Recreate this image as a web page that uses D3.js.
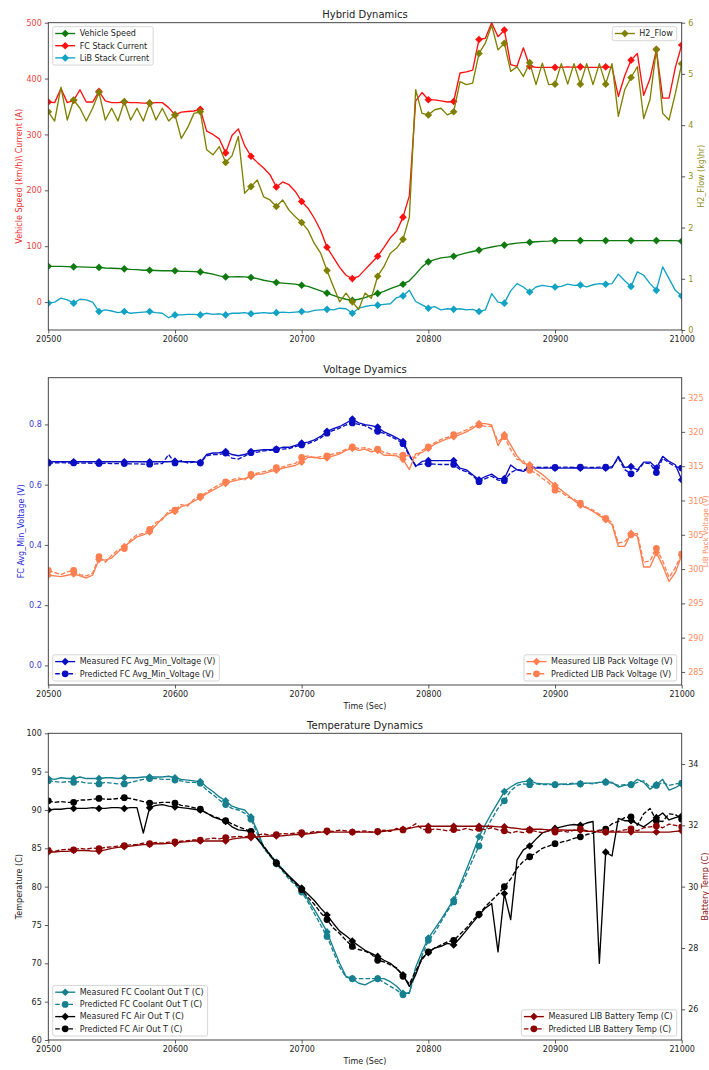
<!DOCTYPE html>
<html>
<head>
<meta charset="utf-8">
<script src="https://cdn.jsdelivr.net/npm/d3@7"></script>
<style>
  body { margin: 0; background: #fff; }
  svg { display: block; }
  text { font-family: "DejaVu Sans", sans-serif; }
</style>
</head>
<body>
<div id="chart"></div>
<script>
// time axis, one sample every 5 s
const time = d3.range(20500, 21001, 5);
const xTicks = [20500, 20600, 20700, 20800, 20900, 21000];

// ---- Hybrid Dynamics ----
const speed = [
  64, 64, 64, 63.5, 63, 63, 62.5, 62, 62, 61,
  60.5, 60, 59.5, 58.5, 58, 57, 57, 56.5, 56, 56,
  56, 55, 55, 54.5, 54, 52, 50, 47, 45, 45,
  45.5, 45, 44, 42, 39, 37, 35, 34, 33, 32,
  30, 28, 24, 20, 16, 12, 8, 5, 3, 5,
  8, 12, 15.5, 19, 24, 28, 32, 38, 50, 63,
  72, 76, 79, 80.5, 82, 85, 88, 90.5, 93, 96,
  98.5, 100.5, 102, 104, 105.5, 106.5, 107, 108, 108.5, 109,
  110, 110, 110, 110, 110, 110, 110, 110, 110, 110,
  110, 110, 110, 110, 110, 110, 110, 110, 110, 110,
  109
];
const fcCurrent = [
  358, 357, 382, 357, 361, 380, 358, 358, 377, 360,
  357, 357, 358, 357, 357, 356, 356, 357, 357, 348,
  335, 340, 341, 342, 345, 306, 300, 292, 267, 298,
  310, 280, 261, 250, 240, 228, 206, 215, 210, 198,
  180, 168, 150, 128, 98, 80, 62, 48, 42, 46,
  58, 70, 82, 98, 115, 127, 152, 190, 360, 375,
  362, 362, 360, 358, 359, 410, 412, 415, 470, 472,
  500, 475, 487, 425, 422, 455, 422, 420, 420, 420,
  420, 420, 421, 420, 421, 420, 420, 420, 421, 420,
  368, 405, 433, 445, 370, 400, 452, 365, 365, 420,
  460
];
const libCurrent = [
  -2, 0, 7, 4, -2, 5, 4, 0, -17, -14,
  -16, -19, -17, -20, -19, -18, -17, -19, -20, -28,
  -23, -23, -22, -22, -23, -20, -22, -21, -23, -20,
  -20, -19, -21, -20, -19, -20, -19, -18, -19, -18,
  -17, -18, -15, -14, -13, -14, -11, -12, -20, -11,
  -8, -6, -5.5, -4, -3, 8, 11, 21, 1, -5,
  -11, -8, -14, -12, -13, -12, -14, -13, -17, -14,
  15, 0, -2, 20, 33, 27, 18, 27, 30, 28,
  27, 28, 32, 30, 30.5, 27, 31, 33, 32, 33,
  50, 38, 28, 54, 48, 33, 21, 63, 42, 21,
  11
];
const h2Flow = [
  4.26, 4.08, 4.74, 4.1, 4.49, 4.33, 4.08, 4.33, 4.64, 4.1,
  4.33, 4.08, 4.46, 4.1, 4.33, 4.08, 4.43, 4.1, 4.33, 4.08,
  4.2, 3.74, 3.95, 4.23, 4.26, 3.52, 3.42, 3.58, 3.27, 3.4,
  3.78, 2.67, 2.8, 2.93, 2.6, 2.54, 2.41, 2.54, 2.34, 2.21,
  2.1, 1.95, 1.69, 1.5, 1.16, 0.85, 0.55, 0.72, 0.55, 0.4,
  0.72, 0.62, 1.05, 1.24, 1.5, 1.6, 1.77, 2.2, 4.69, 4.23,
  4.2, 4.3, 4.33, 4.2, 4.26, 4.85, 4.79, 4.82, 5.4, 5.6,
  5.95, 5.47, 5.6, 5.05, 5.14, 4.95, 5.22, 4.79, 5.21, 4.79,
  4.8, 5.2, 4.8, 5.2, 4.8, 5.2, 4.79, 5.2, 4.8, 5.2,
  4.17, 4.69, 4.93, 5.14, 4.13, 4.5, 5.48, 4.23, 4.1, 4.62,
  5.2
];

// ---- Voltage Dynamics ----
const fcVoltMeas = [
  0.676, 0.676, 0.676, 0.676, 0.676, 0.676, 0.676, 0.676, 0.676, 0.676,
  0.676, 0.676, 0.676, 0.676, 0.676, 0.676, 0.676, 0.676, 0.676, 0.676,
  0.678, 0.676, 0.676, 0.676, 0.673, 0.700, 0.705, 0.706, 0.710, 0.700,
  0.696, 0.700, 0.710, 0.714, 0.716, 0.716, 0.718, 0.724, 0.724, 0.730,
  0.738, 0.741, 0.749, 0.760, 0.777, 0.786, 0.793, 0.804, 0.818, 0.805,
  0.799, 0.796, 0.791, 0.775, 0.766, 0.755, 0.743, 0.700, 0.660, 0.677,
  0.680, 0.680, 0.680, 0.680, 0.680, 0.655, 0.649, 0.633, 0.616, 0.627,
  0.635, 0.620, 0.620, 0.665, 0.649, 0.644, 0.655, 0.655, 0.655, 0.655,
  0.655, 0.655, 0.655, 0.656, 0.655, 0.655, 0.655, 0.655, 0.655, 0.656,
  0.694, 0.657, 0.660, 0.649, 0.675, 0.675, 0.655, 0.694, 0.677, 0.666,
  0.616
];
const fcVoltPred = [
  0.672, 0.672, 0.673, 0.672, 0.672, 0.671, 0.672, 0.671, 0.670, 0.671,
  0.670, 0.670, 0.670, 0.669, 0.669, 0.668, 0.668, 0.669, 0.670, 0.700,
  0.672, 0.680, 0.672, 0.675, 0.672, 0.696, 0.700, 0.700, 0.705, 0.688,
  0.685, 0.695, 0.706, 0.708, 0.712, 0.714, 0.716, 0.718, 0.720, 0.726,
  0.732, 0.736, 0.744, 0.755, 0.771, 0.780, 0.788, 0.798, 0.805, 0.800,
  0.796, 0.785, 0.777, 0.770, 0.760, 0.750, 0.736, 0.695, 0.665, 0.668,
  0.669, 0.668, 0.667, 0.667, 0.667, 0.650, 0.643, 0.630, 0.610, 0.620,
  0.628, 0.615, 0.613, 0.640, 0.650, 0.648, 0.657, 0.658, 0.657, 0.658,
  0.657, 0.658, 0.658, 0.657, 0.658, 0.658, 0.657, 0.658, 0.658, 0.660,
  0.688, 0.650, 0.636, 0.645, 0.672, 0.670, 0.640, 0.688, 0.672, 0.660,
  0.655
];
const libVoltMeas = [
  299.1, 299.0, 298.9, 299.1, 299.3, 299.0, 298.7, 299.1, 301.4, 301.3,
  301.6, 302.5, 303.3, 304.0, 304.7, 305.0, 305.4, 306.4, 307.4, 308.1,
  308.4, 309.1, 309.4, 309.9, 310.4, 311.0, 311.5, 312.0, 312.5, 312.8,
  313.0, 313.2, 313.5, 313.8, 313.9, 314.2, 314.4, 314.7, 314.9, 315.1,
  315.6, 316.3, 316.3, 316.1, 316.2, 316.5, 316.8, 317.3, 317.6, 317.3,
  317.5, 317.1, 317.3, 316.6, 316.6, 316.5, 316.0, 314.5, 316.8, 317.0,
  317.6, 318.2, 318.6, 319.0, 319.3, 319.6, 320.0, 320.5, 321.2, 321.2,
  321.0, 318.0, 319.6, 318.1, 316.5, 315.4, 315.2, 314.4, 313.8, 313.0,
  312.2, 311.5, 310.8, 310.0, 309.3, 308.9, 308.4, 307.8, 307.2, 306.5,
  303.3, 303.3, 305.2, 304.8, 300.3, 300.3, 302.4, 300.5, 298.2, 299.5,
  302.0
];
const libVoltPred = [
  299.8, 299.5, 299.2, 299.6, 299.8, 299.2, 299.0, 299.4, 301.8, 301.0,
  302.0, 302.8, 303.0, 304.3, 305.0, 305.2, 305.8, 306.8, 307.2, 308.5,
  308.6, 309.4, 309.2, 310.2, 310.6, 311.2, 311.8, 312.3, 312.7, 313.0,
  313.3, 313.0, 313.8, 314.0, 314.2, 314.4, 314.8, 314.9, 315.2, 315.4,
  316.3, 316.5, 316.2, 316.4, 316.5, 316.8, 317.0, 317.5, 317.8, 317.6,
  317.7, 317.4, 317.5, 317.0, 316.8, 316.8, 316.6, 316.5, 316.2, 317.3,
  317.8, 318.4, 318.9, 319.2, 319.6, 319.9, 320.3, 320.8, 321.0, 320.8,
  320.8, 318.6, 319.3, 317.4, 316.0, 315.8, 314.4, 314.0, 313.2, 312.6,
  311.5, 311.2, 310.5, 310.2, 309.6, 309.0, 308.6, 308.0, 307.4, 306.8,
  303.8, 304.0, 305.0, 305.2, 301.0, 301.2, 303.0, 301.2, 298.8, 300.2,
  302.2
];

// ---- Temperature Dynamics ----
const coolantMeas = [
  94.1, 94.0, 94.2, 94.1, 94.1, 94.3, 94.1, 94.1, 94.1, 94.2,
  94.2, 94.1, 94.2, 94.2, 94.2, 94.3, 94.3, 94.3, 94.3, 94.4,
  94.2, 94.0, 93.9, 93.8, 93.7, 93.0, 92.4, 91.7, 91.2, 90.5,
  90.2, 90.0, 89.1, 87.3, 85.2, 84.2, 83.2, 82.3, 81.3, 80.5,
  79.6, 78.3, 77.0, 75.6, 74.1, 72.0, 70.0, 68.3, 68.0, 67.4,
  67.2, 67.6, 68.0, 68.0, 67.6, 67.0, 66.1, 66.1, 69.5, 71.5,
  73.3, 74.5, 75.7, 77.0, 78.3, 80.2, 82.2, 84.3, 86.5, 88.1,
  89.6, 91.0, 92.4, 93.0, 93.5, 93.7, 93.8, 93.5, 93.4, 93.4,
  93.3, 93.4, 93.3, 93.4, 93.4, 93.5, 93.5, 93.6, 93.7, 93.6,
  93.0, 93.2, 93.3, 94.0, 93.6, 92.7, 93.3, 94.0, 92.6, 92.9,
  93.4
];
const coolantPred = [
  93.8, 93.7, 93.6, 93.7, 93.6, 93.7, 93.5, 93.5, 93.4, 93.6,
  93.5, 93.4, 93.4, 93.6, 93.8, 94.0, 94.1, 94.1, 94.0, 94.0,
  93.9, 93.8, 93.6, 93.6, 93.5, 92.6, 92.0, 91.3, 90.7, 90.2,
  90.0, 89.6, 88.8, 86.9, 85.0, 84.0, 83.0, 82.0, 81.0, 80.2,
  79.3, 78.0, 76.5, 75.0, 73.5, 71.5, 69.5, 68.2, 68.0, 68.0,
  68.0, 68.0, 68.0, 67.5, 67.0, 66.5, 65.9, 66.2, 68.8, 71.0,
  73.0, 74.0, 75.4, 76.8, 78.0, 79.8, 81.6, 83.5, 85.3, 87.3,
  88.8, 90.2, 91.2, 92.5, 93.2, 93.4, 93.3, 93.4, 93.3, 93.3,
  93.3, 93.3, 93.4, 93.5, 93.4, 93.5, 93.4, 93.6, 93.6, 93.5,
  93.2, 93.3, 93.3, 93.6, 93.8, 93.0, 93.2, 93.6, 93.2, 93.4,
  93.5
];
const airMeas = [
  90.0, 90.1, 90.1, 90.2, 90.2, 90.2, 90.2, 90.3, 90.2, 90.2,
  90.3, 90.3, 90.2, 90.3, 90.3, 87.0, 90.3, 90.6, 90.7, 90.5,
  90.4, 90.3, 90.2, 90.1, 90.0, 89.6, 89.1, 88.8, 88.5, 87.8,
  87.4, 87.3, 87.2, 86.2, 85.2, 84.1, 83.0, 82.2, 81.4, 80.6,
  79.8, 79.0, 78.2, 77.2, 76.3, 75.2, 74.2, 73.6, 72.9, 72.3,
  71.7, 71.3, 70.9, 70.4, 70.0, 69.3, 68.5, 67.0, 68.5, 70.7,
  71.4, 72.0, 72.2, 72.6, 72.4, 73.3, 74.3, 75.3, 76.3, 77.2,
  77.8, 71.5, 79.1, 75.7, 83.5, 84.8, 85.3, 86.2, 87.0, 87.3,
  87.6, 87.8, 88.0, 88.1, 88.0, 88.3, 88.5, 70.0, 84.5, 84.0,
  88.9, 88.6, 88.6, 88.2, 87.8, 88.4, 89.0, 89.6, 88.7, 89.0,
  89.2
];
const airPred = [
  91.2, 91.0, 91.1, 91.0, 91.0, 91.3, 91.3, 91.4, 91.5, 91.4,
  91.4, 91.5, 91.6, 91.5, 91.3, 91.1, 90.9, 90.9, 91.0, 91.0,
  90.9, 90.6, 90.5, 90.3, 90.1, 89.6, 89.2, 88.9, 88.6, 88.2,
  87.8, 87.5, 87.2, 86.3, 85.3, 84.2, 83.1, 82.2, 81.2, 80.4,
  79.6, 78.6, 77.7, 76.6, 75.7, 74.6, 73.9, 73.0, 72.2, 71.8,
  71.6, 71.2, 70.4, 70.2, 69.8, 69.4, 68.3, 67.3, 69.0, 70.5,
  71.5, 72.0, 72.4, 72.8, 73.0, 73.8, 74.6, 75.6, 76.4, 77.4,
  78.2, 79.0, 80.0, 81.0, 82.4, 83.3, 83.9, 84.4, 85.0, 85.3,
  85.6, 85.8, 86.0, 86.3, 86.5, 86.8, 87.0, 87.3, 87.5, 88.2,
  88.5, 89.0, 89.1, 88.0, 89.5, 90.2, 88.6, 88.5, 89.5, 89.4,
  88.8
];
const battMeas = [
  31.13, 31.13, 31.15, 31.15, 31.18, 31.18, 31.18, 31.16, 31.16, 31.2,
  31.25, 31.28, 31.3, 31.32, 31.35, 31.37, 31.38, 31.4, 31.4, 31.41,
  31.41, 31.45, 31.47, 31.49, 31.49, 31.49, 31.49, 31.49, 31.49, 31.55,
  31.58, 31.6, 31.6, 31.62, 31.64, 31.65, 31.65, 31.66, 31.68, 31.7,
  31.7, 31.72, 31.75, 31.78, 31.78, 31.78, 31.78, 31.78, 31.78, 31.78,
  31.78, 31.78, 31.78, 31.8, 31.84, 31.86, 31.87, 31.9, 31.95, 31.97,
  31.97, 31.97, 31.97, 31.97, 31.97, 31.97, 31.97, 31.97, 31.97, 31.97,
  31.97, 31.95, 31.95, 31.92, 31.9, 31.87, 31.87, 31.87, 31.87, 31.85,
  31.85, 31.85, 31.84, 31.84, 31.84, 31.8, 31.8, 31.78, 31.78, 31.78,
  31.78, 31.78, 31.78, 31.78, 31.78, 31.78, 31.78, 31.78, 31.78, 31.8,
  31.82
];
const battPred = [
  31.18, 31.15, 31.2, 31.22, 31.2, 31.25, 31.22, 31.26, 31.24, 31.28,
  31.3, 31.32, 31.34, 31.36, 31.38, 31.42, 31.4, 31.44, 31.42, 31.45,
  31.46, 31.48, 31.5, 31.52, 31.52, 31.55, 31.58, 31.56, 31.6, 31.62,
  31.64, 31.62, 31.66, 31.68, 31.72, 31.68, 31.7, 31.73, 31.72, 31.75,
  31.76, 31.74, 31.8, 31.78, 31.82, 31.8, 31.84, 31.82, 31.78, 31.8,
  31.82, 31.78, 31.8, 31.84, 31.8, 31.9, 31.85, 31.92, 32.05, 31.88,
  31.84, 31.88, 31.86, 31.82, 31.86, 31.84, 31.9, 31.84, 31.9, 31.86,
  31.92, 31.85, 31.82, 31.75, 31.8, 31.76, 31.84, 31.8, 31.76, 31.82,
  31.78, 31.82, 31.78, 31.84, 31.88, 31.82, 31.8, 31.84, 31.78, 31.82,
  31.8, 31.85, 31.88, 31.82, 31.92, 31.95, 31.98, 31.92, 32.04, 32.0,
  31.95
];

// Set up SVG
const W = 709, H = 1070;
const left = 48.3, right = 681.7;
const svg = d3.select("#chart").append("svg").attr("width", W).attr("height", H);
const x = d3.scaleLinear().domain([20500, 21000]).range([left, right]);

const FONT = "DejaVu Sans";

function makePanel(p) {
  const yL = d3.scaleLinear().domain(p.leftDomain).range([p.bottom, p.top]);
  const yR = d3.scaleLinear().domain(p.rightDomain).range([p.bottom, p.top]);

  svg.append("clipPath").attr("id", "clip-" + p.name)
    .append("rect").attr("x", left).attr("y", p.top)
    .attr("width", right - left).attr("height", p.bottom - p.top);

  const plot = svg.append("g").attr("clip-path", `url(#clip-${p.name})`);

  svg.append("rect").attr("x", left).attr("y", p.top)
    .attr("width", right - left).attr("height", p.bottom - p.top)
    .attr("fill", "none").attr("stroke", "#333").attr("stroke-width", 0.9);

  const gx = svg.append("g").attr("transform", `translate(0,${p.bottom})`)
    .call(d3.axisBottom(x).tickValues(xTicks).tickFormat(d3.format("d")).tickSize(3.5).tickPadding(3));
  const gl = svg.append("g").attr("transform", `translate(${left},0)`)
    .call(d3.axisLeft(yL).tickValues(p.leftTicks).tickFormat(p.leftFormat).tickSize(3.5).tickPadding(3));
  const gr = svg.append("g").attr("transform", `translate(${right},0)`)
    .call(d3.axisRight(yR).tickValues(p.rightTicks).tickFormat(p.rightFormat).tickSize(3.5).tickPadding(3));

  [gx, gl, gr].forEach(g => {
    g.select(".domain").remove();
    g.attr("font-family", FONT).attr("font-size", 8);
    g.selectAll("line").attr("stroke", "#333").attr("stroke-width", 0.8);
  });
  gx.selectAll("text").attr("fill", "#222");
  gl.selectAll("text").attr("fill", p.leftTickColor);
  gr.selectAll("text").attr("fill", p.rightTickColor);

  svg.append("text").attr("x", (left + right) / 2).attr("y", p.top - 4.5)
    .attr("text-anchor", "middle").attr("font-size", 10).attr("fill", "#222").text(p.title);

  if (p.xLabel) {
    svg.append("text").attr("x", (left + right) / 2).attr("y", p.bottom + 24)
      .attr("text-anchor", "middle").attr("font-size", 8).attr("fill", "#222").text(p.xLabel);
  }

  const cy = (p.top + p.bottom) / 2;
  svg.append("text").attr("transform", `translate(${p.leftLabelX},${cy}) rotate(-90)`)
    .attr("text-anchor", "middle").attr("font-size", 8).attr("fill", p.leftLabelColor).text(p.leftLabel);
  svg.append("text").attr("transform", `translate(${p.rightLabelX},${cy}) rotate(-90)`)
    .attr("text-anchor", "middle").attr("font-size", p.rightLabelSize || 8)
    .attr("fill", p.rightLabelColor).text(p.rightLabel);

  return { ...p, yL, yR, plot };
}

function markerPath(m) {
  return m === "o" ? d3.symbol(d3.symbolCircle, 36)() : d3.symbol(d3.symbolSquare, 29)();
}

function drawSeries(panel, values, axis, color, marker, dashed) {
  const y = axis === "right" ? panel.yR : panel.yL;
  const pts = time.map((t, i) => ({ t: t, v: values[i] }));
  panel.plot.append("path").datum(pts)
    .attr("fill", "none").attr("stroke", color).attr("stroke-width", 1.35)
    .attr("stroke-linejoin", "round")
    .attr("stroke-dasharray", dashed ? "4.6,2" : null)
    .attr("d", d3.line().x(d => x(d.t)).y(d => y(d.v)));
  panel.plot.append("g").selectAll("path")
    .data(pts.filter((d, i) => i % 4 === 0))
    .join("path")
    .attr("d", markerPath(marker))
    .attr("transform", d => `translate(${x(d.t)},${y(d.v)})` + (marker === "D" ? " rotate(45)" : ""))
    .attr("fill", color);
}

function legend(panel, items, corner) {
  const rowH = 12.2;
  const lg = svg.append("g");
  const rows = lg.selectAll("g.row").data(items).join("g").attr("class", "row")
    .attr("transform", (d, i) => `translate(0,${6.8 + i * rowH})`);
  rows.append("line").attr("x1", 2.5).attr("x2", 22.5).attr("y1", 0).attr("y2", 0)
    .attr("stroke", d => d.color).attr("stroke-width", 1.35)
    .attr("stroke-dasharray", d => d.dashed ? "4.6,2" : null);
  rows.append("path").attr("d", d => markerPath(d.marker))
    .attr("transform", d => "translate(12.5,0)" + (d.marker === "D" ? " rotate(45)" : ""))
    .attr("fill", d => d.color);
  rows.append("text").attr("x", 27).attr("dy", "0.35em")
    .attr("font-size", 8).attr("fill", "#222").text(d => d.label);

  const tw = d3.max(rows.selectAll("text").nodes(), n => n.getComputedTextLength());
  const bw = 27 + tw + 4;
  const bh = items.length * rowH + 1.8;
  lg.insert("rect", ":first-child").attr("width", bw).attr("height", bh).attr("rx", 2)
    .attr("fill", "#fff").attr("fill-opacity", 0.85).attr("stroke", "#ccc").attr("stroke-width", 0.8);

  const lx = corner[1] === "l" ? left + 4.4 : right - 5 - bw;
  const ly = corner[0] === "u" ? panel.top + 4 : panel.bottom - 4 - bh;
  lg.attr("transform", `translate(${lx},${ly})`);
}

// ---- panel 1 ----
const p1 = makePanel({
  name: "hybrid", top: 22.7, bottom: 330, title: "Hybrid Dynamics",
  leftDomain: [-50, 500], rightDomain: [0, 6],
  leftTicks: [0, 100, 200, 300, 400, 500], rightTicks: [0, 1, 2, 3, 4, 5, 6],
  leftFormat: d3.format("d"), rightFormat: d3.format("d"),
  leftTickColor: "#ef4040", rightTickColor: "#8e8e22",
  leftLabel: "Vehicle Speed (km/h)\\ Current (A)", leftLabelColor: "#ee3030", leftLabelX: 21.5,
  rightLabel: "H2_Flow (kg\\hr)", rightLabelColor: "#8e8e22", rightLabelX: 703.5
});
drawSeries(p1, speed, "left", "#0f7a0f", "D", false);
drawSeries(p1, fcCurrent, "left", "#ff1010", "D", false);
drawSeries(p1, libCurrent, "left", "#12a2c4", "D", false);
drawSeries(p1, h2Flow, "right", "#808000", "D", false);
legend(p1, [
  { label: "Vehicle Speed", color: "#0f7a0f", marker: "D" },
  { label: "FC Stack Current", color: "#ff1010", marker: "D" },
  { label: "LiB Stack Current", color: "#12a2c4", marker: "D" }
], "ul");
legend(p1, [{ label: "H2_Flow", color: "#808000", marker: "D" }], "ur");

// ---- panel 2 ----
const p2 = makePanel({
  name: "voltage", top: 377.7, bottom: 685, title: "Voltage Dyamics", xLabel: "Time (Sec)",
  leftDomain: [-0.065, 0.955], rightDomain: [283.1, 327.9],
  leftTicks: [0, 0.2, 0.4, 0.6, 0.8], rightTicks: [285, 290, 295, 300, 305, 310, 315, 320, 325],
  leftFormat: d3.format(".1f"), rightFormat: d3.format("d"),
  leftTickColor: "#3a3ade", rightTickColor: "#ff8a5c",
  leftLabel: "FC Avg_Min_Voltage (V)", leftLabelColor: "#2a2ad8", leftLabelX: 23.5,
  rightLabel: "LIB Pack Voltage (V)", rightLabelColor: "#ff8a5c", rightLabelX: 708.3, rightLabelSize: 7.2
});
drawSeries(p2, fcVoltMeas, "left", "#0a0ec2", "D", false);
drawSeries(p2, fcVoltPred, "left", "#0a0ec2", "o", true);
drawSeries(p2, libVoltMeas, "right", "#ff7f50", "D", false);
drawSeries(p2, libVoltPred, "right", "#ff7f50", "o", true);
legend(p2, [
  { label: "Measured FC Avg_Min_Voltage (V)", color: "#0a0ec2", marker: "D" },
  { label: "Predicted FC Avg_Min_Voltage (V)", color: "#0a0ec2", marker: "o", dashed: true }
], "ll");
legend(p2, [
  { label: "Measured LIB Pack Voltage (V)", color: "#ff7f50", marker: "D" },
  { label: "Predicted LIB Pack Voltage (V)", color: "#ff7f50", marker: "o", dashed: true }
], "lr");

// ---- panel 3 ----
const p3 = makePanel({
  name: "temp", top: 733.3, bottom: 1040, title: "Temperature Dynamics", xLabel: "Time (Sec)",
  leftDomain: [60, 100], rightDomain: [25, 35],
  leftTicks: [60, 65, 70, 75, 80, 85, 90, 95, 100], rightTicks: [26, 28, 30, 32, 34],
  leftFormat: d3.format("d"), rightFormat: d3.format("d"),
  leftTickColor: "#222", rightTickColor: "#222",
  leftLabel: "Temperature (C)", leftLabelColor: "#222", leftLabelX: 21.5,
  rightLabel: "Battery Temp (C)", rightLabelColor: "#8b1010", rightLabelX: 707.5
});
drawSeries(p3, coolantMeas, "left", "#16808f", "D", false);
drawSeries(p3, coolantPred, "left", "#16808f", "o", true);
drawSeries(p3, airMeas, "left", "#000", "D", false);
drawSeries(p3, airPred, "left", "#000", "o", true);
drawSeries(p3, battMeas, "right", "#8b0000", "D", false);
drawSeries(p3, battPred, "right", "#8b0000", "o", true);
legend(p3, [
  { label: "Measured FC Coolant Out T (C)", color: "#16808f", marker: "D" },
  { label: "Predicted FC Coolant Out T (C)", color: "#16808f", marker: "o", dashed: true },
  { label: "Measured FC Air Out T (C)", color: "#000", marker: "D" },
  { label: "Predicted FC Air Out T (C)", color: "#000", marker: "o", dashed: true }
], "ll");
legend(p3, [
  { label: "Measured LIB Battery Temp (C)", color: "#8b0000", marker: "D" },
  { label: "Predicted LIB Battery Temp (C)", color: "#8b0000", marker: "o", dashed: true }
], "lr");
</script>
</body>
</html>
